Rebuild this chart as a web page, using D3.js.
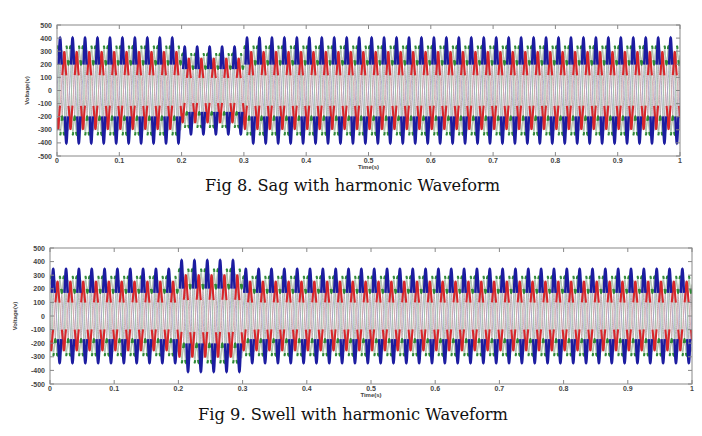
<!DOCTYPE html>
<html>
<head>
<meta charset="utf-8">
<script src="https://cdn.jsdelivr.net/npm/d3@7"></script>
<style>
  html, body { margin: 0; padding: 0; background: #fff; }
  svg { display: block; }
  .tick-label { font-family: "Liberation Sans", Arial, sans-serif; font-weight: bold; font-size: 7px; fill: #444; }
  .axis-title { font-family: "Liberation Sans", Arial, sans-serif; font-weight: bold; font-size: 6px; fill: #444; }
  .caption { font-family: "DejaVu Serif", serif; font-size: 16px; fill: #111; }
</style>
</head>
<body>
<div id="chart"></div>
<script>
// Axis ticks
const timeTicks = [0, 0.1, 0.2, 0.3, 0.4, 0.5, 0.6, 0.7, 0.8, 0.9, 1];
const voltTicks = [-500, -400, -300, -200, -100, 0, 100, 200, 300, 400, 500];

// Supply frequency and plotted time span (s)
const supplyHz = 50;
const timeSpan = [0, 1];

// Traces: fundamental volts, phase shift (deg), 3rd / 5th harmonic ratio
const phaseNames = ["Va", "Vb", "Vc", "Va'", "Vb'", "Vc'"];
const phasePeaks = [340, 255, 330, 320, 320, 320];
const phaseShifts = [0, -120, 120, 60, -60, 180];
const thirdRatio = [-0.15, -0.1, 0.45, 0.1, 0.1, 0.1];
const fifthRatio = [0.03, 0.05, 0.05, 0.05, 0.05, 0.05];
const phaseColors = ["#1c1ca0", "#d8262a", "#2d8a35", "#c9b9c2", "#c2c2cc", "#cdbab6"];
const phaseTints = ["#a6a4cc", "#d6a6ac", "#a6c4a9", "#b3a4ac", "#acacb7", "#b6a5a1"];
// colour rule per trace: "crest" = above share of peak, "flat" = where slope is low
const accentRule = ["crest", "crest", "flat"];
const accentLevel = [0.55, 0.45, 0.6];

// Disturbance windows (relative magnitude of supply voltage)
const sagWindows = [
  { start: 0.0, end: 0.2, level: 1.0 },
  { start: 0.2, end: 0.3, level: 0.83 },
  { start: 0.3, end: 1.0, level: 1.0 }
];
const swellWindows = [
  { start: 0.0, end: 0.2, level: 0.86 },
  { start: 0.2, end: 0.3, level: 1.02 },
  { start: 0.3, end: 1.0, level: 0.86 }
];

const figures = [
  { caption: "Fig 8. Sag with harmonic Waveform", windows: sagWindows,
    box: { left: 57, right: 680, top: 25, bottom: 156 },
    yLabelX: 29, captionY: 191, captionX: [205, 500] },
  { caption: "Fig 9. Swell with harmonic Waveform", windows: swellWindows,
    box: { left: 50, right: 692, top: 248, bottom: 384 },
    yLabelX: 17, captionY: 420, captionX: [198, 508] }
];

const svg = d3.select("#chart").append("svg").attr("width", 702).attr("height", 436);

function levelAt(windows, t) {
  const w = windows.find((d) => t >= d.start && t < d.end) || windows[windows.length - 1];
  return w.level;
}

function tracePoints(i, windows) {
  const n = 8000;
  const pts = [];
  const phi = (phaseShifts[i] * Math.PI) / 180;
  for (let k = 0; k <= n; k++) {
    const t = timeSpan[0] + ((timeSpan[1] - timeSpan[0]) * k) / n;
    const a = 2 * Math.PI * supplyHz * t + phi;
    const shape = Math.sin(a) + thirdRatio[i] * Math.sin(3 * a) + fifthRatio[i] * Math.sin(5 * a);
    const slope = Math.cos(a) + 3 * thirdRatio[i] * Math.cos(3 * a) + 5 * fifthRatio[i] * Math.cos(5 * a);
    const lvl = levelAt(windows, t);
    pts.push({ t, v: phasePeaks[i] * lvl * shape, lvl, slope });
  }
  return pts;
}

figures.forEach((fig) => {
  const b = fig.box;
  const x = d3.scaleLinear().domain(timeSpan).range([b.left, b.right]);
  const y = d3.scaleLinear().domain([-500, 500]).range([b.bottom, b.top]);

  const g = svg.append("g");
  const clipId = "clip" + b.top;
  g.append("clipPath").attr("id", clipId).append("rect")
    .attr("x", b.left).attr("y", b.top).attr("width", b.right - b.left).attr("height", b.bottom - b.top);

  const plot = g.append("g").attr("clip-path", `url(#${clipId})`);
  const traces = phaseNames.map((_, i) => tracePoints(i, fig.windows));

  // thin tinted underlay for every trace
  const fullLine = d3.line().x((d) => x(d.t)).y((d) => y(d.v));
  [3, 4, 5, 0, 1, 2].forEach((i) => {
    plot.append("path")
      .datum(traces[i])
      .attr("fill", "none")
      .attr("stroke", phaseTints[i])
      .attr("stroke-width", 0.9)
      .attr("d", fullLine);
  });

  // strong colour where the trace dwells
  const widths = [2.5, 2.1, 2];
  [1, 2, 0].forEach((i) => {
    const keep = accentRule[i] === "crest"
      ? (d) => Math.abs(d.v) >= accentLevel[i] * phasePeaks[i] * d.lvl
      : (d) => Math.abs(d.slope) <= accentLevel[i] && Math.abs(d.v) > 60;
    const accent = d3.line().defined(keep).x((d) => x(d.t)).y((d) => y(d.v));
    plot.append("path")
      .datum(traces[i])
      .attr("fill", "none")
      .attr("stroke", phaseColors[i])
      .attr("stroke-width", widths[i])
      .attr("d", accent);
  });

  // box and ticks (matlab style, ticks inside on all sides)
  g.append("rect")
    .attr("x", b.left).attr("y", b.top)
    .attr("width", b.right - b.left).attr("height", b.bottom - b.top)
    .attr("fill", "none").attr("stroke", "#888").attr("stroke-width", 1);

  const tl = 4;
  timeTicks.forEach((t) => {
    g.append("line").attr("x1", x(t)).attr("x2", x(t)).attr("y1", b.bottom).attr("y2", b.bottom - tl).attr("stroke", "#888");
    g.append("line").attr("x1", x(t)).attr("x2", x(t)).attr("y1", b.top).attr("y2", b.top + tl).attr("stroke", "#888");
    g.append("text").attr("class", "tick-label")
      .attr("x", x(t)).attr("y", b.bottom + 7).attr("text-anchor", "middle").text(t);
  });
  voltTicks.forEach((v) => {
    g.append("line").attr("x1", b.left).attr("x2", b.left + tl).attr("y1", y(v)).attr("y2", y(v)).attr("stroke", "#888");
    g.append("line").attr("x1", b.right).attr("x2", b.right - tl).attr("y1", y(v)).attr("y2", y(v)).attr("stroke", "#888");
    g.append("text").attr("class", "tick-label")
      .attr("x", b.left - 5).attr("y", y(v) + 2.5).attr("text-anchor", "end").text(v);
  });

  g.append("text").attr("class", "axis-title")
    .attr("x", (b.left + b.right) / 2).attr("y", b.bottom + 13).attr("text-anchor", "middle").text("Time(s)");
  g.append("text").attr("class", "axis-title")
    .attr("transform", `translate(${fig.yLabelX},${y(0)}) rotate(-90)`)
    .attr("text-anchor", "middle").text("Voltage(v)");

  g.append("text").attr("class", "caption")
    .attr("x", fig.captionX[0]).attr("y", fig.captionY)
    .attr("textLength", fig.captionX[1] - fig.captionX[0])
    .attr("lengthAdjust", "spacingAndGlyphs")
    .text(fig.caption);
});
</script>
</body>
</html>
